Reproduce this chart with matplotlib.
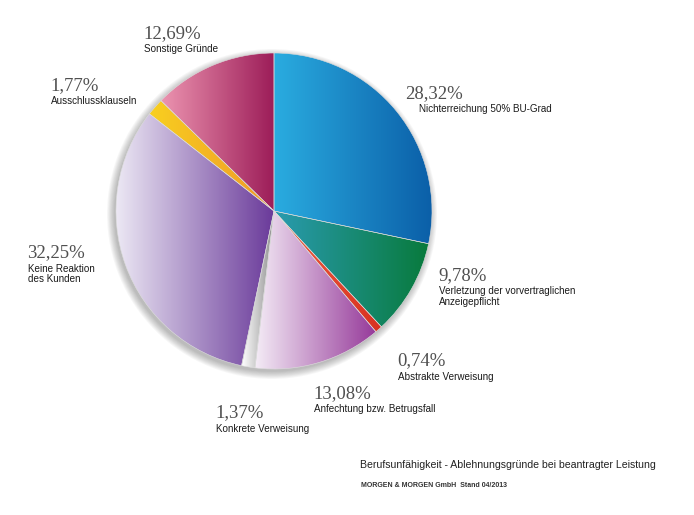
import numpy as np
import matplotlib.pyplot as plt
from matplotlib.colors import LinearSegmentedColormap
from matplotlib.patches import Circle

W, H = 694, 515

# data, clockwise from 12 o'clock
shares = [28.32, 9.78, 0.74, 13.08, 1.37, 32.25, 1.77, 12.69]
pct_labels = ['28,32%', '9,78%', '0,74%', '13,08%', '1,37%', '32,25%', '1,77%', '12,69%']
names = ['Nichterreichung 50% BU-Grad',
         'Verletzung der vorvertraglichen\nAnzeigepflicht',
         'Abstrakte Verweisung',
         'Anfechtung bzw. Betrugsfall',
         'Konkrete Verweisung',
         'Keine Reaktion\ndes Kunden',
         'Ausschlussklauseln',
         'Sonstige Gründe']

# left -> right gradient for each slice
grads = [('#2aace0', '#0b5fa8'),
         ('#2a9bb0', '#087a3c'),
         ('#f06040', '#d83020'),
         ('#f4ecf6', '#963a9a'),
         ('#ffffff', '#8a8a8a'),
         ('#ece8f4', '#6a3a9a'),
         ('#f8d020', '#f09828'),
         ('#ec94b0', '#9c1c58')]

# label anchor (left x, baseline y of percentage) in pixels
label_pos = [(405, 98), (438, 280), (397, 365), (313, 398),
             (215, 417), (27, 257), (50, 90), (143, 38)]
name_dx = [13, 0, 0, 0, 0, 0, 0, 0]

cx, cy, r = 274, H - 211, 158

fig = plt.figure(figsize=(6.94, 5.15), dpi=100)
ax = fig.add_axes([0, 0, 1, 1])

# soft shadow
for k in range(9):
    ax.add_patch(Circle((cx - 2, cy - 3), r + 7 - k * 0.9, color='#000000',
                        alpha=0.03, lw=0, zorder=0))

wedges, _ = ax.pie(shares, startangle=90, counterclock=False, center=(cx, cy),
                   radius=r, frame=True,
                   wedgeprops=dict(edgecolor='#dddddd', linewidth=0.4))

for w, (c1, c2) in zip(wedges, grads):
    t1, t2 = sorted([w.theta1, w.theta2])
    ang = np.radians(np.linspace(t1, t2, 200))
    xs = np.concatenate([[cx], cx + r * np.cos(ang)])
    x0, x1 = xs.min(), xs.max()
    cmap = LinearSegmentedColormap.from_list('g', [c1, c2])
    grad = np.linspace(0, 1, 256).reshape(1, -1)
    im = ax.imshow(grad, cmap=cmap, extent=[x0, x1, cy - r, cy + r],
                   aspect='auto', zorder=2, interpolation='bicubic')
    im.set_clip_path(w)
    w.set_facecolor('none')
    w.set_zorder(3)

ax.set_xlim(0, W)
ax.set_ylim(0, H)
ax.set_aspect('equal')
ax.axis('off')

for (x, y), dx, p, n in zip(label_pos, name_dx, pct_labels, names):
    ax.text(x, H - y, p, fontsize=13.5, family='Liberation Serif',
            color='#505050', va='baseline', ha='left')
    ax.text(x + 1 + dx, H - y - 6.5, n, fontsize=7.1, family='Liberation Sans',
            color='#1a1a1a', va='top', ha='left', linespacing=1.05)

ax.text(360, H - 468, 'Berufsunfähigkeit - Ablehnungsgründe bei beantragter Leistung',
        fontsize=7.6, family='Liberation Sans', color='#222222', va='baseline')
ax.text(361, H - 487, 'MORGEN & MORGEN GmbH  Stand 04/2013',
        fontsize=5, family='Liberation Sans', weight='bold', color='#333333',
        va='baseline')

fig.savefig('out.png', dpi=100)
